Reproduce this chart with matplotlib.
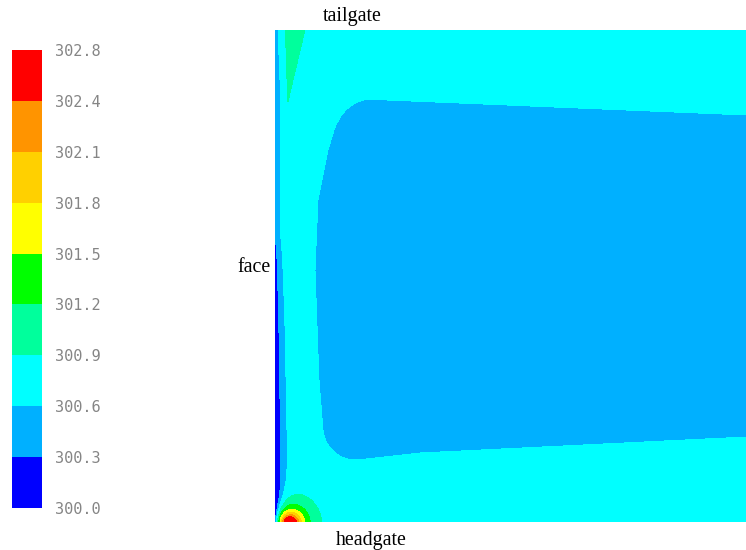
import numpy as np
import matplotlib
matplotlib.use("Agg")
import matplotlib.pyplot as plt

# temperature bands (K) and their fill colours
levels = [300.0, 300.3, 300.6, 300.9, 301.2, 301.5, 301.8, 302.1, 302.4, 302.8]
band_colors = ["#0000ff", "#00b0ff", "#00ffff", "#00ff9c", "#00ff00",
               "#ffff00", "#ffd000", "#ff9400", "#ff0000"]

# panel size (face -> goaf, headgate -> tailgate), arbitrary units
panel_w, panel_h = 471, 492
t_base = 300.75

# cooler core of the goaf: left edge, top and bottom edges
core_left_y = [0, 92, 142, 252, 322, 372, 402, 492]
core_left_x = [52, 48, 44, 40, 43, 53, 62, 75]
core_top_x = [0, 88, 471]
core_top_y = [425, 423, 407]
core_bot_x = [0, 82, 145, 471]
core_bot_y = [60, 62, 69, 85]
core_drop = 0.3
core_round = 32.0

# cooling along the face line
face_y = [0, 80, 200, 260, 290, 492]
face_drop = [1.4, 1.15, 0.9, 0.7, 0.44, 0.40]
face_depth = [6.0, 6.0, 5.5, 5.0, 5.0, 5.0]

# warm plume near the tailgate corner
plume_x_top, plume_x_tip = 19.0, 13.0
plume_half_w, plume_len, plume_rise = 11.0, 72.0, 0.3

# hot spot at the headgate corner
hot_x, hot_y = 14.5, -1.5
hot_rise, hot_decay = 3.4, 10.3

x = np.linspace(0, panel_w, 472)
y = np.linspace(0, panel_h, 493)
X, Y = np.meshgrid(x, y)

# core region as a rounded box
dl = X - np.interp(Y, core_left_y, core_left_x)
dt = np.interp(X, core_top_x, core_top_y) - Y
db = Y - np.interp(X, core_bot_x, core_bot_y)
r = core_round
d = r - np.sqrt(np.maximum(r - dl, 0) ** 2 + np.maximum(r - dt, 0) ** 2
                + np.maximum(r - db, 0) ** 2)
T = t_base - core_drop / (1 + np.exp(-d / 6.0))

# face cooling
T -= np.interp(Y, face_y, face_drop) * np.exp(-X / np.interp(Y, face_y, face_depth))

# tailgate plume
depth = panel_h - Y
frac = np.clip(1 - depth / plume_len, 0, 1)
xc = plume_x_top + (plume_x_tip - plume_x_top) * (1 - frac)
hw = np.maximum(plume_half_w * frac, 0.05)
T += np.where(frac > 0, plume_rise * np.exp(-np.log(2) * ((X - xc) / hw) ** 2), 0)

# headgate hot spot
R = np.hypot(X - hot_x, Y - hot_y)
T += hot_rise * np.exp(-R / hot_decay)

T = np.clip(T, levels[0] + 1e-3, levels[-1] - 1e-3)

fig = plt.figure(figsize=(7.46, 5.5), dpi=100)
fig.patch.set_facecolor("white")

ax = fig.add_axes([275 / 746, 28 / 550, 471 / 746, 492 / 550])
cf = ax.contourf(X, Y, T, levels=levels, colors=band_colors, antialiased=False)
ax.set_xlim(0, panel_w)
ax.set_ylim(0, panel_h)
ax.axis("off")

serif = ["Liberation Serif", "DejaVu Serif"]
fig.text(352 / 746, 1 - 17 / 550, "tailgate", ha="center", va="center",
         fontsize=14.3, family=serif)
fig.text(371 / 746, 1 - 540 / 550, "headgate", ha="center", va="center",
         fontsize=14.3, family=serif)
fig.text(271 / 746, 1 - 268 / 550, "face", ha="right", va="center",
         fontsize=14.3, family=serif)

cax = fig.add_axes([12 / 746, 42 / 550, 30 / 746, 458 / 550])
cb = fig.colorbar(cf, cax=cax, ticks=levels)
cb.outline.set_visible(False)
cb.ax.tick_params(length=0, pad=9, labelsize=11, labelcolor="#858585")
cb.ax.set_yticklabels([f"{v:.1f}" for v in levels], family="DejaVu Sans Mono")

fig.savefig("out.png", dpi=100)
